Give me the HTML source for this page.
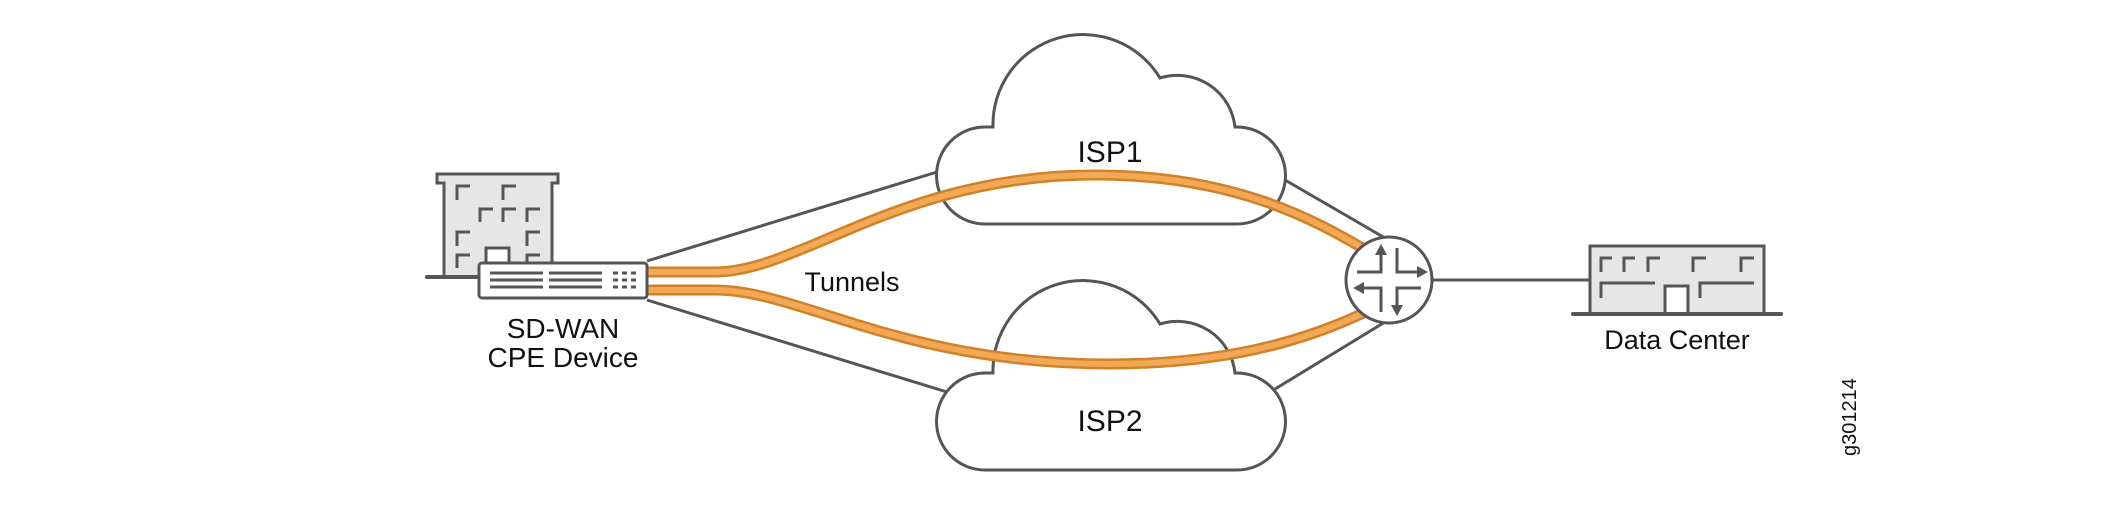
<!DOCTYPE html>
<html><head><meta charset="utf-8"><style>
html,body{margin:0;padding:0;background:#fff;}
svg{display:block;}
text{font-family:"Liberation Sans",sans-serif;fill:#111;}
</style></head><body>
<svg width="2101" height="518" viewBox="0 0 2101 518" xmlns="http://www.w3.org/2000/svg">
<g stroke="#555" stroke-width="3" fill="none">
  <line x1="647" y1="261" x2="937" y2="172"/>
  <line x1="647" y1="300" x2="947" y2="392"/>
  <line x1="1285" y1="180" x2="1385" y2="238"/>
  <line x1="1275" y1="389" x2="1385" y2="322"/>
  <line x1="1432" y1="280" x2="1590" y2="280"/>
</g>
<g stroke="#555" stroke-width="3" fill="#fff">
  <path d="M985,224 L1237,224 A48.5,48.5 0 0 0 1237,127 L1235,127 A58,58 0 0 0 1160,78 A90,90 0 0 0 993,127 L985,127 A48.5,48.5 0 0 0 985,224 Z"/>
  <path d="M985,470 L1237,470 A48.5,48.5 0 0 0 1237,373 L1235,373 A58,58 0 0 0 1160,324 A90,90 0 0 0 993,373 L985,373 A48.5,48.5 0 0 0 985,470 Z"/>
</g>
<g fill="none" stroke-linecap="round">
  <path d="M647,272 L715,272 C800,272 900,175 1095,175 C1250,175 1330,230 1380,258" stroke="#d08228" stroke-width="11"/>
  <path d="M647,272 L715,272 C800,272 900,175 1095,175 C1250,175 1330,230 1380,258" stroke="#f3a855" stroke-width="6"/>
  <path d="M647,290 L715,290 C800,290 900,364 1110,364 C1250,364 1330,330 1380,305" stroke="#d08228" stroke-width="11"/>
  <path d="M647,290 L715,290 C800,290 900,364 1110,364 C1250,364 1330,330 1380,305" stroke="#f3a855" stroke-width="6"/>
</g>
<circle cx="1389" cy="280" r="43" fill="#fff" stroke="#555" stroke-width="3"/>
<g stroke="#555" stroke-width="3" fill="none">
  <path d="M1381,254 L1381,272 L1357,272"/>
  <path d="M1397,248 L1397,272 L1418,272"/>
  <path d="M1363,288 L1381,288 L1381,312"/>
  <path d="M1421,288 L1397,288 L1397,306"/>
</g>
<g fill="#555">
  <polygon points="1381,244 1375,255 1387,255"/>
  <polygon points="1428,272 1417,266 1417,278"/>
  <polygon points="1353,288 1364,282 1364,294"/>
  <polygon points="1397,316 1391,305 1403,305"/>
</g>
<g stroke="#555" stroke-width="3">
  <path d="M1590,314 L1590,246 L1764,246 L1764,314 L1688,314 L1688,286 L1665,286 L1665,314 Z" fill="#e6e6e6"/>
  <line x1="1573" y1="314" x2="1781" y2="314" stroke-width="4" stroke-linecap="round"/>
  <g fill="none">
    <path d="M1601,272 L1601,258 L1612,258 M1624,272 L1624,258 L1635,258 M1648,272 L1648,258 L1660,258 M1693,272 L1693,258 L1706,258 M1741,272 L1741,258 L1754,258"/>
    <path d="M1601,298 L1601,283 L1655,283 M1700,298 L1700,283 L1754,283"/>
  </g>
</g>
<text x="1677" y="349" font-size="27" text-anchor="middle">Data Center</text>
<g stroke="#555" stroke-width="3">
  <path d="M444,277 L444,183 L437,183 L437,174 L558,174 L558,183 L552,183 L552,277 Z" fill="#e6e6e6"/>
  <line x1="427" y1="277" x2="480" y2="277" stroke-width="4" stroke-linecap="round"/>
  <rect x="486" y="248" width="23" height="20" fill="#fff"/>
  <g fill="none">
    <path d="M457,200 L457,186 L470,186 M503,200 L503,186 L516,186 M480,222 L480,209 L493,209 M503,222 L503,209 L516,209 M527,222 L527,209 L540,209 M457,246 L457,232 L470,232 M527,246 L527,232 L540,232 M457,268 L457,255 L470,255 M527,262 L527,255 L540,255"/>
  </g>
  <rect x="479" y="263" width="168" height="35" rx="3" fill="#fff"/>
  <path d="M490,273 H543 M490,280 H543 M490,287 H543 M549,273 H602 M549,280 H602 M549,287 H602"/>
  <path d="M613,273 h5 M622,273 h5 M631,273 h5 M613,280 h5 M622,280 h5 M631,280 h5 M613,287 h5 M622,287 h5 M631,287 h5"/>
</g>
<text x="563" y="338" font-size="28" text-anchor="middle">SD-WAN</text>
<text x="563" y="367" font-size="28" text-anchor="middle">CPE Device</text>
<text x="852" y="291" font-size="27" text-anchor="middle">Tunnels</text>
<text x="1110" y="162" font-size="30" text-anchor="middle">ISP1</text>
<text x="1110" y="431" font-size="30" text-anchor="middle">ISP2</text>
<text transform="translate(1856,417) rotate(-90)" font-size="20" text-anchor="middle">g301214</text>
</svg>
</body></html>
